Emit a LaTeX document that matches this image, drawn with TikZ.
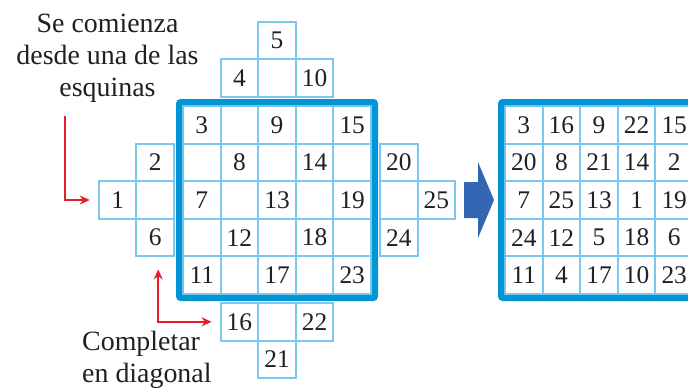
\documentclass[tikz,border=0pt]{standalone}
\usepackage{fontspec}
\setmainfont{Liberation Serif}
\usetikzlibrary{arrows.meta,positioning,calc,fit}

\definecolor{cellblue}{RGB}{122,200,240}
\definecolor{frameblue}{RGB}{0,150,214}
\definecolor{arrowblue}{RGB}{51,102,178}
\definecolor{markred}{RGB}{230,30,40}
\definecolor{inkgray}{RGB}{35,31,32}

\tikzset{
  redtip/.tip={Stealth[length=10bp,width=9bp]},
  cell/.style={draw=cellblue, line width=2bp, minimum size=37.6bp, inner sep=0pt, text=inkgray, font=\fontsize{25.5}{28}\selectfont},
  frame/.style={draw=frameblue, line width=6bp, rounded corners=2bp, inner sep=3bp},
  hint/.style={align=center, text=inkgray, font=\fontsize{28}{32}\selectfont, inner sep=0pt},
  redarrow/.style={draw=markred, line width=2.4bp, -redtip},
}

\begin{document}
\begin{tikzpicture}[x=1bp, y=-1bp]
\clip (0,0) rectangle (688,387);
% left square, 5x5 core
\foreach \row [count=\r] in {{3,{},9,{},15},{{},8,{},14,{}},{7,{},13,{},19},{{},12,{},18,{}},{11,{},17,{},23}}
  \foreach \n [count=\c] in \row
    \node[cell] (a\c\r) at ({164.2+37.6*\c},{87.2+37.6*\r}) {\n};
% cells sticking out, pushed off by the frame
\foreach \c/\r/\n in {3/-1/5, 2/0/4, 3/0/{}, 4/0/10}
  \node[cell] (t\c\r) at ({164.2+37.6*\c},{87.2+37.6*\r-9}) {\n};
\foreach \c/\r/\n in {2/6/16, 3/6/{}, 4/6/22, 3/7/21}
  \node[cell] (b\c\r) at ({164.2+37.6*\c},{87.2+37.6*\r+9}) {\n};
\foreach \c/\r/\n in {-1/3/1, 0/2/2, 0/3/{}, 0/4/6}
  \node[cell] (l\c\r) at ({164.2+37.6*\c-9},{87.2+37.6*\r}) {\n};
\foreach \c/\r/\n in {6/2/20, 6/3/{}, 6/4/24, 7/3/25}
  \node[cell] (r\c\r) at ({164.2+37.6*\c+9},{87.2+37.6*\r}) {\n};
\node[frame, fit=(a11)(a55)] (left) {};

% finished square
\foreach \row [count=\r] in {{3,16,9,22,15},{20,8,21,14,2},{7,25,13,1,19},{24,12,5,18,6},{11,4,17,10,23}}
  \foreach \n [count=\c] in \row
    \node[cell] (s\c\r) at ({486.2+37.6*\c},{87.2+37.6*\r}) {\n};
\node[frame, fit=(s11)(s55)] (right) {};

\fill[arrowblue] (464,182) -- (478,182) -- (478,162) -- (494,200) -- (478,238) -- (478,218) -- (464,218) -- cycle;

\node[hint, anchor=north] (corner) at (107.5,14) {Se comienza\\desde una de las\\esquinas};
\node[hint, align=left, anchor=north west] (diag) at (82,331) {Completar\\en diagonal};

\coordinate (from) at (65,116);
\draw[redarrow] (from) |- ([xshift=-8bp]l-13.west);
\draw[redarrow, redtip-redtip] ([xshift=3bp,yshift=-12bp]l04.south) |- ([xshift=-8bp]b26.west);
\end{tikzpicture}
\end{document}
